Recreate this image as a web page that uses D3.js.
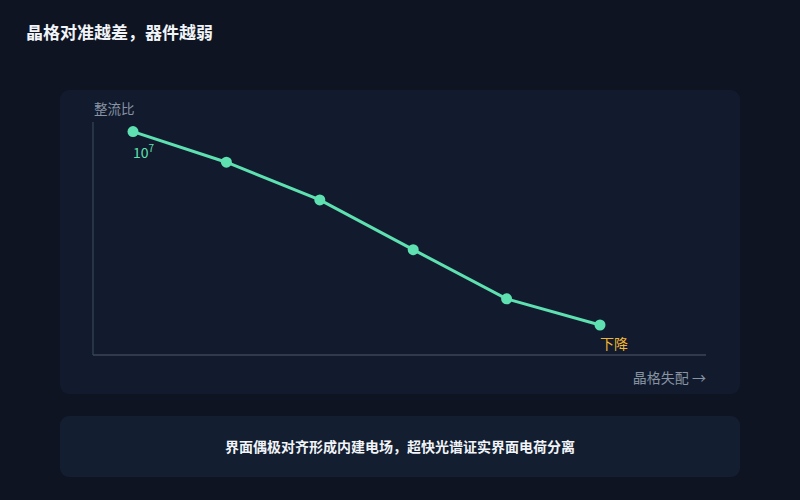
<!DOCTYPE html>
<html>
<head>
<meta charset="utf-8">
<script src="https://cdn.jsdelivr.net/npm/d3@7"></script>
<style>
  html, body { margin: 0; padding: 0; background: #0e1422; }
  svg { display: block; font-family: "Noto Sans CJK SC", "Noto Sans", sans-serif; }
</style>
</head>
<body>
<svg id="chart" width="800" height="500"></svg>
<script>
// Data (log10 of rectification ratio vs. mismatch step)
const steps = [0, 1, 2, 3, 4, 5];
const logRatio = [7, 6.52, 5.93, 5.15, 4.38, 3.97];
const yDomain = [3.5, 7.15];

const title = '晶格对准越差，器件越弱';
const yLabel = '整流比';
const xLabel = '晶格失配 →';
const noteText = '界面偶极对齐形成内建电场，超快光谱证实界面电荷分离';

const svg = d3.select('#chart');

// Background
svg.append('rect').attr('width', 800).attr('height', 500).attr('fill', '#0e1422');

// Title
svg.append('text')
    .attr('x', 26).attr('y', 39)
    .attr('fill', '#f1f4f8')
    .attr('font-size', 17).attr('font-weight', 700)
    .text(title);

// Chart card
svg.append('rect')
    .attr('x', 60).attr('y', 90).attr('width', 680).attr('height', 304)
    .attr('rx', 9).attr('fill', '#111b2d');

// Note card
svg.append('rect')
    .attr('x', 60).attr('y', 416).attr('width', 680).attr('height', 61)
    .attr('rx', 9).attr('fill', '#131e31');

svg.append('text')
    .attr('x', 400).attr('y', 452)
    .attr('text-anchor', 'middle')
    .attr('fill', '#f1f4f8')
    .attr('font-size', 14).attr('font-weight', 700)
    .text(noteText);

// Scales
const x = d3.scaleLinear().domain([0, 5]).range([133, 600]);
const y = d3.scaleLinear().domain(yDomain).range([355, 122]);

// Axis lines (no ticks)
const axisColor = '#3a4659';
svg.append('line')
    .attr('x1', 93).attr('x2', 93).attr('y1', 122).attr('y2', 355)
    .attr('stroke', axisColor).attr('stroke-width', 1.2);
svg.append('line')
    .attr('x1', 93).attr('x2', 706).attr('y1', 355).attr('y2', 355)
    .attr('stroke', axisColor).attr('stroke-width', 1.5);

// Axis labels
svg.append('text')
    .attr('x', 94).attr('y', 114)
    .attr('fill', '#8893a4').attr('font-size', 13.5)
    .text(yLabel);
svg.append('text')
    .attr('x', 706).attr('y', 383)
    .attr('text-anchor', 'end')
    .attr('fill', '#8893a4').attr('font-size', 14)
    .text(xLabel);

// Line
const green = '#5fe0b1';
const line = d3.line()
    .x((d, i) => x(steps[i]))
    .y(d => y(d));

svg.append('path')
    .datum(logRatio)
    .attr('fill', 'none')
    .attr('stroke', green)
    .attr('stroke-width', 3)
    .attr('d', line);

svg.selectAll('circle.pt')
    .data(logRatio)
    .enter().append('circle')
    .attr('class', 'pt')
    .attr('cx', (d, i) => x(steps[i]))
    .attr('cy', d => y(d))
    .attr('r', 5.5)
    .attr('fill', green);

// Annotations
const first = svg.append('text')
    .attr('x', x(steps[0])).attr('y', y(logRatio[0]) + 26)
    .attr('fill', green).attr('font-size', 14);
first.append('tspan').text('10');
first.append('tspan').attr('dy', -6).attr('font-size', 10).text('7');

svg.append('text')
    .attr('x', x(steps[5])).attr('y', y(logRatio[5]) + 24)
    .attr('fill', '#f2b632').attr('font-size', 14)
    .text('下降');
</script>
</body>
</html>
